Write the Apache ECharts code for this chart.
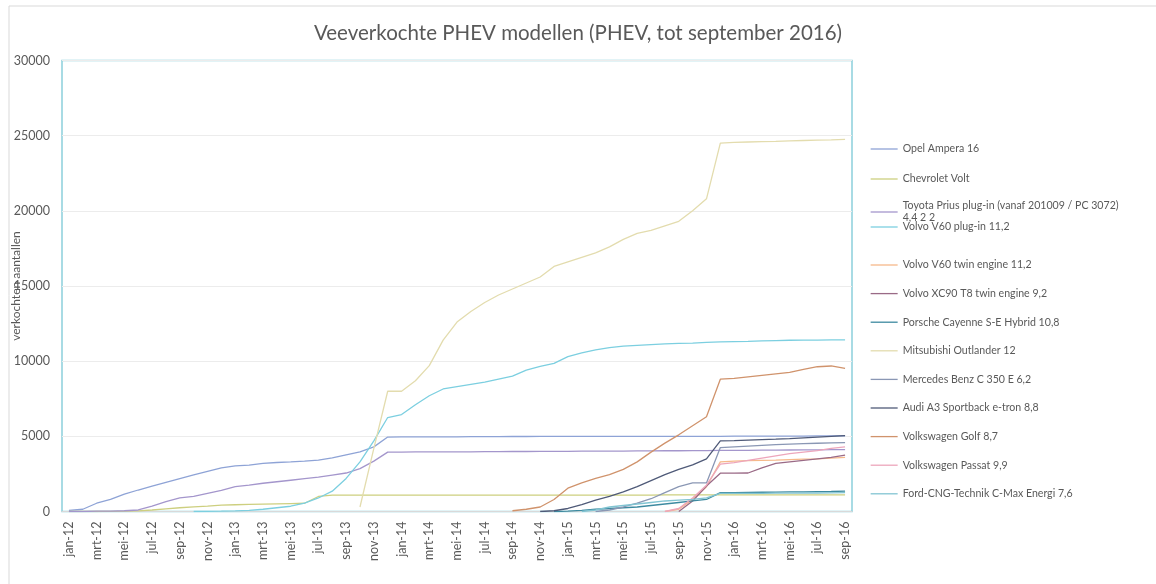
<!DOCTYPE html>
<html>
<head>
<meta charset="utf-8">
<script src="https://cdn.jsdelivr.net/npm/echarts@6/dist/echarts.min.js"></script>
<style>
  html, body { margin: 0; padding: 0; background: #fff; }
  #chart { width: 1156px; height: 584px; }
</style>
</head>
<body>
<div id="chart"></div>
<script>
// months, jan-12 .. sep-16
var months = [
  'jan-12','feb-12','mrt-12','apr-12','mei-12','jun-12','jul-12','aug-12','sep-12','okt-12','nov-12','dec-12',
  'jan-13','feb-13','mrt-13','apr-13','mei-13','jun-13','jul-13','aug-13','sep-13','okt-13','nov-13','dec-13',
  'jan-14','feb-14','mrt-14','apr-14','mei-14','jun-14','jul-14','aug-14','sep-14','okt-14','nov-14','dec-14',
  'jan-15','feb-15','mrt-15','apr-15','mei-15','jun-15','jul-15','aug-15','sep-15','okt-15','nov-15','dec-15',
  'jan-16','feb-16','mrt-16','apr-16','mei-16','jun-16','jul-16','aug-16','sep-16'
];

var yTicks = [0, 5000, 10000, 15000, 20000, 25000, 30000];

var opelAmpera = [
  80,150,550,800,1150,1430,1690,1940,2190,2430,2670,2900,
  3030,3080,3200,3260,3300,3350,3420,3560,3760,3960,4300,4950,
  4960,4960,4970,4970,4970,4980,4980,4980,4990,4990,5000,5000,
  5000,5000,5000,5000,5000,5000,5000,5000,5000,5000,5000,5000,
  5010,5010,5010,5020,5020,5020,5030,5030,5040
];
var chevroletVolt = [
  0,0,0,10,20,40,100,180,250,310,360,420,
  450,470,490,510,530,550,1000,1090,1090,1090,1090,1090,
  1090,1090,1090,1090,1090,1090,1090,1090,1090,1090,1090,1090,
  1090,1090,1090,1090,1090,1090,1090,1100,1100,1100,1100,1100,
  1100,1100,1100,1100,1100,1100,1100,1100,1100
];
var toyotaPrius = [
  0,0,20,30,50,100,350,650,900,1000,1200,1400,
  1650,1750,1880,1980,2080,2180,2280,2420,2560,2850,3350,3950,
  3950,3960,3960,3970,3970,3970,3980,3980,3990,3990,4000,4000,
  4000,4010,4010,4020,4020,4030,4030,4040,4040,4050,4050,4060,
  4060,4070,4080,4080,4090,4100,4100,4110,4120
];
var volvoV60 = [
  null,null,null,null,null,null,null,null,null,0,10,20,
  40,80,150,250,350,550,900,1350,2200,3300,4700,6250,
  6450,7100,7700,8150,8300,8450,8600,8800,9000,9400,9650,9850,
  10300,10550,10750,10900,11000,11050,11100,11150,11180,11200,11250,11280,
  11300,11320,11350,11370,11390,11400,11400,11410,11420
];
var volvoV60Twin = [
  null,null,null,null,null,null,null,null,null,null,null,null,
  null,null,null,null,null,null,null,null,null,null,null,null,
  null,null,null,null,null,null,null,null,null,null,null,null,
  null,null,null,null,null,null,null,0,150,800,1650,3300,
  3350,3380,3400,3420,3450,3480,3500,3550,3600
];
var volvoXC90 = [
  null,null,null,null,null,null,null,null,null,null,null,null,
  null,null,null,null,null,null,null,null,null,null,null,null,
  null,null,null,null,null,null,null,null,null,null,null,null,
  null,null,null,null,null,null,null,null,0,700,1700,2550,
  2550,2560,2900,3200,3300,3400,3500,3600,3750
];
var porscheCayenne = [
  null,null,null,null,null,null,null,null,null,null,null,null,
  null,null,null,null,null,null,null,null,null,null,null,null,
  null,null,null,null,null,null,null,null,null,null,null,0,
  30,80,150,200,250,300,400,500,600,700,800,1250,
  1260,1270,1280,1290,1300,1310,1320,1330,1350
];
var mitsubishiOutlander = [
  null,null,null,null,null,null,null,null,null,null,null,null,
  null,null,null,null,null,null,null,null,null,300,4200,8000,
  8000,8700,9700,11400,12600,13300,13900,14400,14800,15200,15600,16300,
  16600,16900,17200,17600,18100,18500,18700,19000,19300,20000,20800,24500,
  24550,24580,24600,24620,24650,24680,24700,24720,24750
];
var mercedesC350 = [
  null,null,null,null,null,null,null,null,null,null,null,null,
  null,null,null,null,null,null,null,null,null,null,null,null,
  null,null,null,null,null,null,null,null,null,null,null,null,
  null,null,0,100,300,550,850,1250,1650,1900,1900,4250,
  4300,4350,4400,4450,4480,4510,4540,4560,4580
];
var audiA3 = [
  null,null,null,null,null,null,null,null,null,null,null,null,
  null,null,null,null,null,null,null,null,null,null,null,null,
  null,null,null,null,null,null,null,null,null,null,0,50,
  200,450,750,1000,1300,1650,2050,2450,2800,3100,3500,4700,
  4720,4750,4780,4810,4850,4900,4950,5000,5050
];
var vwGolf = [
  null,null,null,null,null,null,null,null,null,null,null,null,
  null,null,null,null,null,null,null,null,null,null,null,null,
  null,null,null,null,null,null,null,null,50,150,300,800,
  1550,1900,2200,2450,2800,3300,3950,4550,5100,5700,6300,8800,
  8850,8950,9050,9150,9250,9450,9630,9680,9520
];
var vwPassat = [
  null,null,null,null,null,null,null,null,null,null,null,null,
  null,null,null,null,null,null,null,null,null,null,null,null,
  null,null,null,null,null,null,null,null,null,null,null,null,
  null,null,null,null,null,null,null,0,200,900,1750,3150,
  3250,3400,3550,3700,3850,3950,4050,4200,4300
];
var fordCMax = [
  null,null,null,null,null,null,null,null,null,null,null,null,
  null,null,null,null,null,null,null,null,null,null,null,null,
  null,null,null,null,null,null,null,null,null,null,null,null,
  null,0,100,300,400,500,600,700,750,800,900,1200,
  1200,1210,1210,1220,1220,1230,1230,1240,1250
];

var seriesNames = [
  'Opel Ampera 16',
  'Chevrolet Volt',
  'Toyota Prius plug-in (vanaf 201009 / PC 3072)\n4,4 2 2',
  'Volvo V60 plug-in 11,2',
  'Volvo V60 twin engine 11,2',
  'Volvo XC90 T8 twin engine 9,2',
  'Porsche Cayenne S-E Hybrid 10,8',
  'Mitsubishi Outlander 12',
  'Mercedes Benz C 350 E 6,2',
  'Audi A3 Sportback e-tron 8,8',
  'Volkswagen Golf 8,7',
  'Volkswagen Passat 9,9',
  'Ford-CNG-Technik C-Max Energi 7,6'
];
var seriesData = [
  opelAmpera, chevroletVolt, toyotaPrius, volvoV60, volvoV60Twin, volvoXC90,
  porscheCayenne, mitsubishiOutlander, mercedesC350, audiA3, vwGolf, vwPassat, fordCMax
];
var colors = [
  '#8ea3d6', '#cdcf7f', '#a496cc', '#7ccfe0', '#f6b98a', '#9a6a86',
  '#3d8aa0', '#e3dcae', '#8a97b4', '#4f5a78', '#d0936c', '#eda6bb', '#82c4d2'
];

var font = 'Lato, "Open Sans", sans-serif';
var textColor = '#595959';

var series = seriesData.map(function (d, i) {
  return {
    name: seriesNames[i],
    type: 'line',
    data: d,
    symbol: 'none',
    connectNulls: false,
    lineStyle: { width: 1.3, color: colors[i] },
    itemStyle: { color: colors[i] }
  };
});

function legendBlock(names, top, gap) {
  return {
    orient: 'vertical',
    left: 870,
    top: top,
    padding: 0,
    itemGap: gap,
    itemWidth: 27,
    itemHeight: 12,
    data: names,
    itemStyle: { opacity: 0 },
    lineStyle: { width: 1.3 },
    textStyle: { fontFamily: font, fontSize: 10.6, color: textColor, lineHeight: 12 }
  };
}

var chart = echarts.init(document.getElementById('chart'), null, { renderer: 'canvas' });
chart.setOption({
  animation: false,
  color: colors,
  title: {
    text: 'Veeverkochte PHEV modellen (PHEV, tot september 2016)',
    left: 'center',
    top: 18,
    textStyle: { fontFamily: font, fontSize: 20.5, fontWeight: 'normal', color: textColor }
  },
  graphic: [{
    type: 'rect',
    shape: { x: 9, y: 6, width: 1300, height: 700 },
    style: { fill: 'none', stroke: '#d9d9d9', lineWidth: 1 },
    silent: true
  }],
  legend: [
    legendBlock(seriesNames.slice(0, 2), 143, 18),
    legendBlock(seriesNames.slice(2, 3), 200, 0),
    legendBlock(seriesNames.slice(3, 4), 221, 0),
    legendBlock(seriesNames.slice(4), 259, 16.6)
  ],
  grid: {
    left: 62, right: 304, top: 60.5, bottom: 72.5,
    containLabel: false,
    outerBoundsMode: 'none',
    show: true,
    borderColor: '#8ccfdb',
    borderWidth: 1.5
  },
  xAxis: {
    type: 'category',
    data: months,
    boundaryGap: true,
    axisLine: { lineStyle: { color: '#d9d9d9' } },
    axisTick: { interval: 1, length: 4, lineStyle: { color: '#d9d9d9' } },
    axisLabel: { interval: 1, rotate: 90, margin: 10, fontFamily: font, fontSize: 12.5, color: textColor }
  },
  yAxis: {
    type: 'value',
    min: yTicks[0],
    max: yTicks[yTicks.length - 1],
    interval: yTicks[1] - yTicks[0],
    name: 'verkochten aantallen',
    nameLocation: 'middle',
    nameGap: 40,
    nameMoveOverlap: false,
    nameTextStyle: { fontFamily: font, fontSize: 12, color: textColor },
    axisLine: { show: false },
    axisTick: { show: false },
    splitLine: { lineStyle: { color: '#ececec' } },
    axisLabel: {
      margin: 12, fontFamily: font, fontSize: 12.5, color: textColor,
      formatter: function (v) { return String(v); }
    }
  },
  series: series
});
</script>
</body>
</html>
